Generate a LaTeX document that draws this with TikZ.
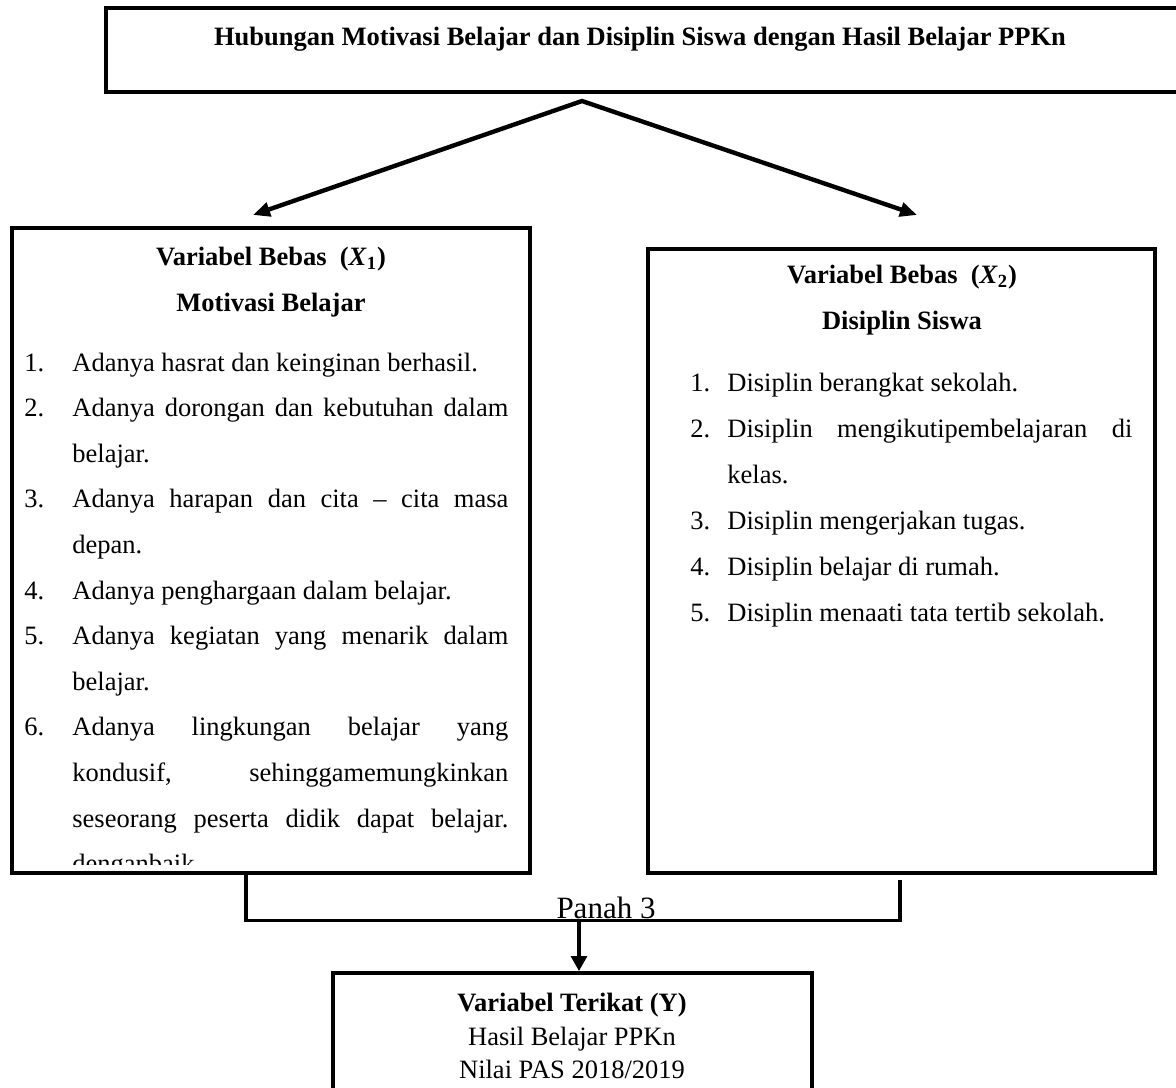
\documentclass[tikz,border=0pt]{standalone}
\usepackage{fontspec}
\setmainfont{Liberation Serif}
\usetikzlibrary{arrows.meta,positioning,calc}
\tikzset{
    kotak/.style={
           rectangle,
           draw=black, line width=2pt,
           inner sep=0pt,
           },
    pil/.style={
           line width=2.2pt,
           },
    garis/.style={
           line width=1.6pt,
           },
    kepala/.style={
           inner sep=0pt,
           anchor=north,
           align=center,
           font=\bfseries\fontsize{13.25pt}{23pt}\selectfont,
           },
    isi/.style={
           inner sep=0pt,
           anchor=north west,
           align=justify,
           execute at begin node={\hyphenpenalty=10000 \tolerance=10000 \emergencystretch=2em},
           },
}
\newcommand{\nomor}[2]{\par\noindent\hangindent=#1\hangafter=1\makebox[#1][l]{\strut#2}\ignorespaces}

\begin{document}
\begin{tikzpicture}[x=0.5pt,y=-0.5pt,>={Triangle[length=8.5pt,width=7pt]}]
\useasboundingbox (0,0) rectangle (1176,1087);
\clip (0,0) rectangle (1176,1087);
% judul
\node[kotak, minimum width=542pt, minimum height=42pt] (judul) at (648,50) {};
\node[inner sep=0pt, anchor=base, font=\bfseries\fontsize{13.25pt}{16pt}\selectfont] (teksjudul) at (640,45)
    {Hubungan Motivasi Belajar dan Disiplin Siswa dengan Hasil Belajar PPKn};
% variabel bebas
\node[kotak, minimum width=259pt, minimum height=322.5pt] (x1) at (271,550.5) {};
\node[kotak, minimum width=253.5pt, minimum height=312pt] (x2) at (901.5,561) {};
\node[kepala] (hx1) at (271,233) {\strut Variabel Bebas\ \ (\textit{X}\textsubscript{1})\\Motivasi Belajar};
\node[kepala] (hx2) at (902,251) {\strut Variabel Bebas\ \ (\textit{X}\textsubscript{2})\\Disiplin Siswa};
\begin{scope}
\clip (12,228) rectangle (530,864);
\node[isi, text width=242pt, font=\fontsize{13.25pt}{22.8pt}\selectfont] (dx1) at (24,325) {%
\nomor{24pt}{1.}Adanya hasrat dan keinginan berhasil.
\nomor{24pt}{2.}Adanya dorongan dan kebutuhan dalam\linebreak belajar.
\nomor{24pt}{3.}Adanya harapan dan cita -- cita masa\linebreak depan.
\nomor{24pt}{4.}Adanya penghargaan dalam belajar.
\nomor{24pt}{5.}Adanya kegiatan yang menarik dalam\linebreak belajar.
\nomor{24pt}{6.}Adanya lingkungan belajar yang\linebreak kondusif, sehinggamemungkinkan\linebreak seseorang peserta didik dapat belajar.\linebreak denganbaik\par};
\end{scope}
\node[isi, text width=221pt, font=\fontsize{13.25pt}{23pt}\selectfont] (dx2) at (690,345) {%
\nomor{18.5pt}{1.}Disiplin berangkat sekolah.
\nomor{18.5pt}{2.}Disiplin mengikutipembelajaran di\linebreak kelas.
\nomor{18.5pt}{3.}Disiplin mengerjakan tugas.
\nomor{18.5pt}{4.}Disiplin belajar di rumah.
\nomor{18.5pt}{5.}Disiplin menaati tata tertib sekolah.\par};
% variabel terikat
\node[kotak, minimum width=239.5pt, minimum height=83.5pt] (terikat) at (572.5,1056.5) {};
\node[inner sep=0pt, anchor=north, align=center, font=\fontsize{13.25pt}{16.75pt}\selectfont] (teksy) at (572,988)
    {\strut\textbf{Variabel Terikat (Y)}\\Hasil Belajar PPKn\\Nilai PAS 2018/2019};
% panah
\coordinate (pangkal) at (582,101);
\coordinate (ujungkiri) at (253,215);
\coordinate (ujungkanan) at (917,215);
\draw[pil, <->] (ujungkiri) -- (pangkal) -- (ujungkanan);
\coordinate (kakikiri) at (246,872);
\coordinate (kakikanan) at (900,880);
\coordinate (tengah) at (579,920.5);
\draw[garis] (kakikiri) |- (tengah) -| (kakikanan);
\node[inner sep=0pt, anchor=base, font=\fontsize{15.5pt}{18pt}\selectfont] (panah) at (606,918) {Panah 3};
\draw[garis, ->, >={Triangle[length=7.5pt,width=8pt]}] (tengah) -- (tengah |- terikat.north);
\end{tikzpicture}
\end{document}
